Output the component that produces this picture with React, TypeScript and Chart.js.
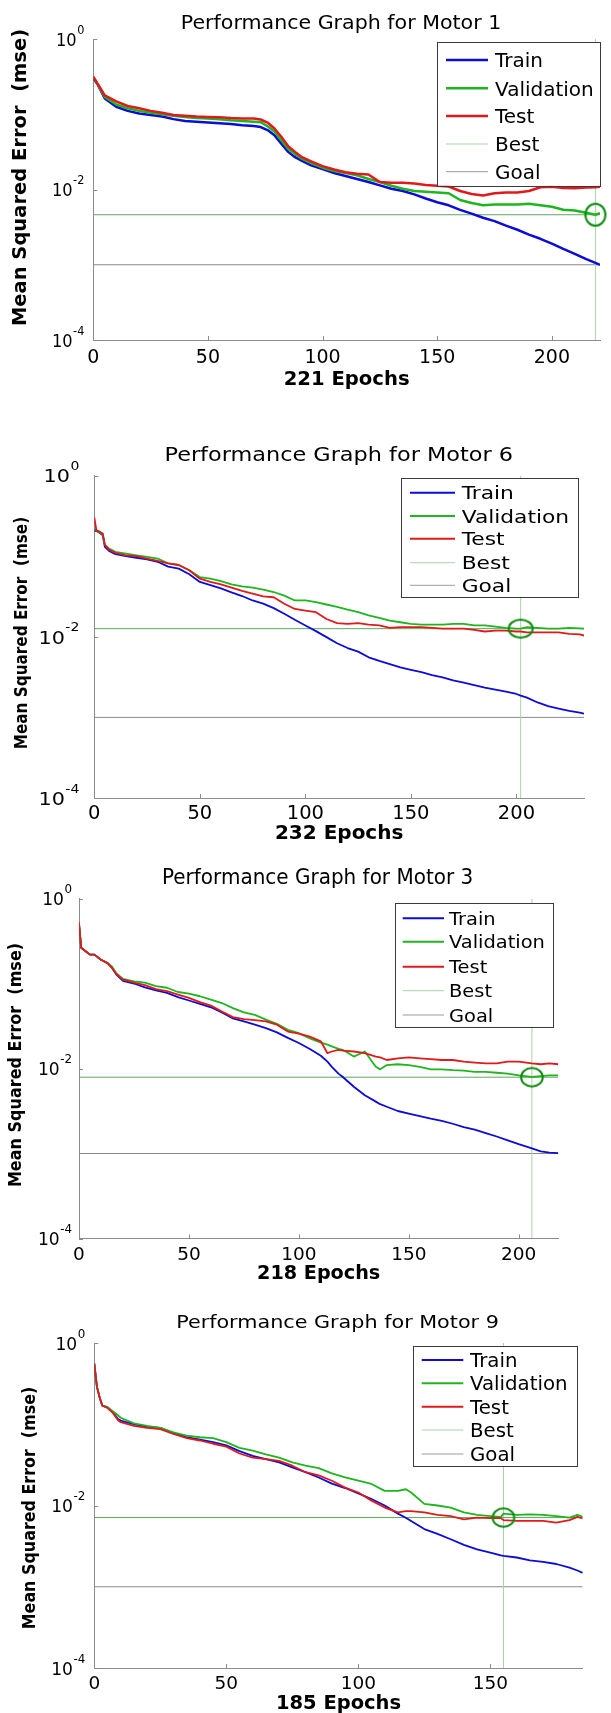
import React, { useEffect, useRef } from 'react';
import { Chart, registerables } from 'chart.js';
Chart.register(...registerables);

const FONT = "'DejaVu Sans', 'Liberation Sans', sans-serif";

// ---------------- data (values are log10 of MSE) ----------------
const LEGEND_LABELS = ['Train', 'Validation', 'Test', 'Best', 'Goal'];
const X_TICKS = [0, 50, 100, 150, 200];
const Y_TICKS = [1, 1e-2, 1e-4];
const Y_EXPS = ['0', '-2', '-4'];
const GOAL = 0.001;

// Motor 1
const m1Epochs = [0,2,5,10,15,20,25,30,35,40,45,50,55,60,65,70,73,76,79,82,85,88,91,95,100,105,110,115,120,125,130,135,140,145,150,155,160,165,170,175,180,185,190,195,200,205,210,215,219,221];
const m1TrainLog = [-0.52,-0.61,-0.79,-0.90,-0.955,-0.99,-1.01,-1.03,-1.065,-1.09,-1.10,-1.11,-1.12,-1.13,-1.145,-1.155,-1.17,-1.21,-1.28,-1.39,-1.50,-1.57,-1.62,-1.68,-1.73,-1.78,-1.82,-1.86,-1.90,-1.945,-1.99,-2.02,-2.065,-2.12,-2.17,-2.21,-2.27,-2.32,-2.375,-2.42,-2.48,-2.535,-2.60,-2.655,-2.72,-2.79,-2.855,-2.925,-2.975,-3.0];
const m1ValLog = [-0.51,-0.61,-0.77,-0.87,-0.92,-0.955,-0.98,-1.0,-1.02,-1.035,-1.05,-1.056,-1.065,-1.08,-1.09,-1.10,-1.105,-1.16,-1.23,-1.345,-1.46,-1.53,-1.59,-1.65,-1.71,-1.755,-1.78,-1.81,-1.86,-1.90,-1.95,-1.99,-2.02,-2.03,-2.04,-2.05,-2.14,-2.18,-2.21,-2.20,-2.20,-2.20,-2.19,-2.21,-2.23,-2.27,-2.28,-2.31,-2.335,-2.315];
const m1TestLog = [-0.50,-0.60,-0.75,-0.83,-0.89,-0.92,-0.955,-0.98,-1.01,-1.02,-1.03,-1.035,-1.04,-1.05,-1.056,-1.056,-1.07,-1.11,-1.19,-1.30,-1.425,-1.50,-1.57,-1.625,-1.69,-1.735,-1.77,-1.79,-1.80,-1.90,-1.91,-1.91,-1.92,-1.94,-1.95,-1.96,-2.02,-2.06,-2.08,-2.05,-2.04,-2.04,-2.02,-1.97,-1.965,-1.98,-1.985,-1.975,-1.97,-1.965];
const m1Best = 0.00462;
const m1BestEpoch = 219;

// Motor 6
const m6Epochs = [0,1,2,4,5,7,10,15,20,25,30,35,40,45,50,55,60,65,70,75,80,85,90,95,100,105,110,115,120,125,130,135,140,145,150,155,160,165,170,175,180,185,190,195,200,202,205,210,215,220,225,230,232];
const m6TrainLog = [-0.68,-0.69,-0.70,-0.74,-0.885,-0.935,-0.976,-1.0,-1.02,-1.04,-1.07,-1.13,-1.155,-1.225,-1.32,-1.36,-1.40,-1.45,-1.495,-1.55,-1.59,-1.645,-1.715,-1.79,-1.86,-1.93,-2.005,-2.08,-2.14,-2.185,-2.255,-2.30,-2.34,-2.38,-2.41,-2.44,-2.475,-2.505,-2.54,-2.57,-2.60,-2.63,-2.655,-2.68,-2.71,-2.73,-2.755,-2.815,-2.86,-2.89,-2.92,-2.94,-2.955];
const m6ValLog = [-0.66,-0.68,-0.70,-0.73,-0.86,-0.905,-0.947,-0.968,-0.99,-1.01,-1.03,-1.09,-1.11,-1.175,-1.26,-1.28,-1.31,-1.35,-1.375,-1.39,-1.415,-1.445,-1.49,-1.55,-1.55,-1.57,-1.60,-1.63,-1.665,-1.695,-1.735,-1.765,-1.80,-1.82,-1.84,-1.85,-1.85,-1.85,-1.84,-1.84,-1.86,-1.86,-1.875,-1.89,-1.90,-1.90,-1.88,-1.89,-1.90,-1.90,-1.89,-1.895,-1.90];
const m6TestLog = [-0.52,-0.68,-0.69,-0.72,-0.86,-0.92,-0.96,-0.99,-1.0,-1.03,-1.06,-1.09,-1.11,-1.175,-1.28,-1.32,-1.35,-1.39,-1.43,-1.465,-1.50,-1.51,-1.59,-1.655,-1.675,-1.695,-1.78,-1.83,-1.84,-1.83,-1.85,-1.86,-1.89,-1.88,-1.88,-1.88,-1.89,-1.90,-1.90,-1.90,-1.915,-1.935,-1.925,-1.925,-1.935,-1.935,-1.945,-1.945,-1.945,-1.945,-1.965,-1.97,-1.985];
const m6Best = 0.0126;
const m6BestEpoch = 202;

// Motor 3
const m3Epochs = [0,1,3,5,7,10,13,15,17,20,25,30,35,40,45,50,55,60,65,70,75,80,85,90,95,100,105,110,113,115,118,120,125,130,135,137,140,145,150,155,160,165,170,175,180,185,190,195,200,206,210,214,218];
const m3TrainLog = [-0.30,-0.58,-0.62,-0.66,-0.66,-0.72,-0.76,-0.815,-0.895,-0.97,-1.0,-1.045,-1.08,-1.11,-1.16,-1.20,-1.24,-1.28,-1.34,-1.41,-1.445,-1.485,-1.525,-1.575,-1.64,-1.70,-1.77,-1.85,-1.92,-1.98,-2.06,-2.10,-2.215,-2.315,-2.39,-2.42,-2.45,-2.50,-2.53,-2.56,-2.59,-2.615,-2.65,-2.69,-2.72,-2.76,-2.80,-2.845,-2.89,-2.94,-2.975,-2.99,-2.995];
const m3ValLog = [-0.30,-0.58,-0.62,-0.66,-0.66,-0.72,-0.76,-0.80,-0.88,-0.945,-0.975,-0.99,-1.03,-1.05,-1.10,-1.12,-1.15,-1.19,-1.23,-1.29,-1.34,-1.37,-1.425,-1.475,-1.545,-1.585,-1.645,-1.695,-1.72,-1.74,-1.77,-1.78,-1.86,-1.80,-1.98,-2.01,-1.96,-1.95,-1.96,-1.98,-2.01,-2.01,-2.02,-2.025,-2.04,-2.04,-2.05,-2.06,-2.08,-2.10,-2.09,-2.08,-2.08];
const m3TestLog = [-0.28,-0.58,-0.62,-0.66,-0.66,-0.72,-0.76,-0.815,-0.89,-0.955,-0.99,-1.02,-1.065,-1.09,-1.13,-1.17,-1.22,-1.26,-1.33,-1.395,-1.42,-1.43,-1.445,-1.485,-1.565,-1.59,-1.625,-1.68,-1.82,-1.80,-1.78,-1.79,-1.80,-1.82,-1.86,-1.87,-1.90,-1.88,-1.87,-1.88,-1.89,-1.90,-1.90,-1.92,-1.93,-1.94,-1.94,-1.92,-1.92,-1.94,-1.95,-1.94,-1.95];
const m3Best = 0.0079;
const m3BestEpoch = 206;

// Motor 9
const m9Epochs = [0,1,2,3,5,7,9,10,15,20,25,30,35,40,45,50,55,60,65,70,75,80,85,90,95,100,105,110,115,118,120,125,130,135,140,145,150,154,155,160,165,170,175,180,183,185];
const m9TrainLog = [-0.255,-0.54,-0.667,-0.77,-0.79,-0.85,-0.935,-0.955,-1.0,-1.03,-1.045,-1.11,-1.16,-1.19,-1.22,-1.26,-1.33,-1.39,-1.43,-1.47,-1.53,-1.59,-1.655,-1.73,-1.785,-1.85,-1.92,-2.0,-2.10,-2.15,-2.19,-2.29,-2.35,-2.415,-2.485,-2.54,-2.58,-2.615,-2.62,-2.64,-2.675,-2.695,-2.72,-2.765,-2.80,-2.83];
const m9ValLog = [-0.255,-0.54,-0.667,-0.77,-0.79,-0.84,-0.89,-0.92,-0.99,-1.02,-1.045,-1.10,-1.14,-1.16,-1.17,-1.22,-1.29,-1.325,-1.37,-1.41,-1.47,-1.51,-1.54,-1.605,-1.655,-1.695,-1.735,-1.82,-1.82,-1.80,-1.84,-1.98,-2.0,-2.025,-2.085,-2.115,-2.13,-2.14,-2.10,-2.115,-2.11,-2.115,-2.13,-2.15,-2.115,-2.14];
const m9TestLog = [-0.255,-0.54,-0.667,-0.77,-0.80,-0.86,-0.95,-0.975,-1.02,-1.045,-1.06,-1.12,-1.17,-1.20,-1.24,-1.275,-1.36,-1.41,-1.43,-1.45,-1.51,-1.59,-1.63,-1.695,-1.78,-1.84,-1.94,-2.025,-2.085,-2.07,-2.07,-2.085,-2.115,-2.13,-2.17,-2.15,-2.155,-2.155,-2.18,-2.19,-2.19,-2.19,-2.21,-2.18,-2.14,-2.16];
const m9Best = 0.0071;
const m9BestEpoch = 155;

// ---------------- styles ----------------
const C_TRAIN = '#0c0cd6';
const C_VAL = '#1fb51f';
const C_TEST = '#e01a1a';
const C_BEST = '#5fa55f';
const C_BEST_V = '#a9d2a9';
const C_GOAL = '#8a8a8a';
const C_CIRCLE = '#0d8a0d';
const C_AXIS = '#8c8c8c';

type Legend = { x1: number; y1: number; x2: number; y2: number; rows: number[]; s1: number; s2: number; tx: number; size: number; sx: number; lw: number };
type Cfg = {
  top: number; height: number; L: number; R: number; T: number; B: number; maxEpoch: number;
  epochs: number[]; train: number[]; val: number[]; test: number[]; best: number; bestEpoch: number;
  title: string; titleX: number; titleY: number; titleSize: number; titleSx: number;
  xTitle: string; xTitleSize: number; xTitlePad: number; xTickSize: number; xTickPad: number;
  yTitleX: number; yTitleY: number; yTitleSize: number; yTitleSx: number;
  yTickSize: number; yExpSize: number; yTickSx: number; yTickGap: number; yExpRaise: number;
  legend: Legend; lineW: number; rx: number; ry: number;
};

const panels: Cfg[] = [
  {
    top: 0, height: 420, L: 93.3, R: 606.7, T: 39, B: 340, maxEpoch: 221,
    epochs: m1Epochs, train: m1TrainLog, val: m1ValLog, test: m1TestLog, best: m1Best, bestEpoch: m1BestEpoch,
    title: 'Performance Graph for Motor 1', titleX: 341, titleY: 21.7, titleSize: 19.6, titleSx: 1.05,
    xTitle: '221 Epochs', xTitleSize: 19.6, xTitlePad: 28.2, xTickSize: 19, xTickPad: 7,
    yTitleX: 19.2, yTitleY: 177.5, yTitleSize: 19.5, yTitleSx: 1.0,
    yTickSize: 18, yExpSize: 12.5, yTickSx: 0.9, yTickGap: 9, yExpRaise: 10,
    legend: { x1: 437.3, y1: 41.7, x2: 600.7, y2: 185.7, rows: [60, 88.3, 116, 144, 171.7], s1: 446, s2: 488, tx: 495, size: 20, sx: 1.0, lw: 2.6 },
    lineW: 2.5, rx: 10, ry: 11,
  },
  {
    top: 420, height: 438, L: 94.3, R: 584, T: 55.5, B: 378, maxEpoch: 232,
    epochs: m6Epochs, train: m6TrainLog, val: m6ValLog, test: m6TestLog, best: m6Best, bestEpoch: m6BestEpoch,
    title: 'Performance Graph for Motor 6', titleX: 338.7, titleY: 34, titleSize: 19.2, titleSx: 1.166,
    xTitle: '232 Epochs', xTitleSize: 20, xTitlePad: 12.7, xTickSize: 19.5, xTickPad: 4,
    yTitleX: 20.3, yTitleY: 213, yTitleSize: 18.5, yTitleSx: 0.824,
    yTickSize: 18.5, yExpSize: 12.5, yTickSx: 1.12, yTickGap: 15, yExpRaise: 10,
    legend: { x1: 400.7, y1: 58, x2: 577.7, y2: 176.7, rows: [72.7, 96, 118.7, 142.7, 165.3], s1: 410, s2: 455, tx: 461.7, size: 18.3, sx: 1.19, lw: 2 },
    lineW: 1.8, rx: 12, ry: 9,
  },
  {
    top: 858, height: 440, L: 79, R: 558.3, T: 40.5, B: 380.5, maxEpoch: 218,
    epochs: m3Epochs, train: m3TrainLog, val: m3ValLog, test: m3TestLog, best: m3Best, bestEpoch: m3BestEpoch,
    title: 'Performance Graph for Motor 3', titleX: 317.6, titleY: 18.7, titleSize: 20.5, titleSx: 0.975,
    xTitle: '218 Epochs', xTitleSize: 19.2, xTitlePad: 12.8, xTickSize: 18.5, xTickPad: 5.4,
    yTitleX: 14.5, yTitleY: 207, yTitleSize: 18.5, yTitleSx: 0.866,
    yTickSize: 18, yExpSize: 12.5, yTickSx: 0.95, yTickGap: 7, yExpRaise: 10,
    legend: { x1: 394.5, y1: 45, x2: 552.5, y2: 168.7, rows: [60.3, 83.7, 108.7, 132.7, 157], s1: 402.7, s2: 444, tx: 449, size: 18.5, sx: 1.05, lw: 2 },
    lineW: 1.8, rx: 10.8, ry: 9.2,
  },
  {
    top: 1298, height: 415, L: 94.3, R: 582.7, T: 45, B: 370, maxEpoch: 185,
    epochs: m9Epochs, train: m9TrainLog, val: m9ValLog, test: m9TestLog, best: m9Best, bestEpoch: m9BestEpoch,
    title: 'Performance Graph for Motor 9', titleX: 337.5, titleY: 23.7, titleSize: 18.5, titleSx: 1.12,
    xTitle: '185 Epochs', xTitleSize: 19.5, xTitlePad: -2.4, xTickSize: 18.5, xTickPad: 5.5,
    yTitleX: 28, yTitleY: 210, yTitleSize: 18.5, yTitleSx: 0.86,
    yTickSize: 18, yExpSize: 12.5, yTickSx: 0.95, yTickGap: 9, yExpRaise: 10,
    legend: { x1: 412.7, y1: 48, x2: 576.7, y2: 167.7, rows: [62, 85.3, 108.7, 132, 156], s1: 421.7, s2: 463.3, tx: 470, size: 19, sx: 1.04, lw: 2 },
    lineW: 1.8, rx: 10.8, ry: 9.2,
  },
];

// ---------------- helpers ----------------
function toPoints(epochs: number[], logs: number[]) {
  return epochs.map((e, i) => ({ x: e, y: Math.pow(10, logs[i]) }));
}

function drawText(ctx: CanvasRenderingContext2D, text: string, x: number, y: number, size: number, sx: number, align: CanvasTextAlign, weight = 'normal', rot = 0) {
  ctx.save();
  ctx.translate(x, y);
  if (rot) ctx.rotate(rot);
  ctx.scale(sx, 1);
  ctx.font = `${weight} ${size}px ${FONT}`;
  ctx.textAlign = align;
  ctx.textBaseline = 'alphabetic';
  ctx.fillStyle = '#000';
  ctx.fillText(text, 0, 0);
  ctx.restore();
}

function makeEllipse(rx: number, ry: number, color: string, lw: number) {
  const c = document.createElement('canvas');
  c.width = Math.ceil(2 * rx + 2 * lw + 2);
  c.height = Math.ceil(2 * ry + 2 * lw + 2);
  const g = c.getContext('2d')!;
  g.strokeStyle = color;
  g.lineWidth = lw;
  g.beginPath();
  g.ellipse(c.width / 2, c.height / 2, rx, ry, 0, 0, Math.PI * 2);
  g.stroke();
  return c;
}

function makeDecor(cfg: Cfg) {
  return {
    id: 'decor',
    afterDraw(chart: any) {
      const ctx: CanvasRenderingContext2D = chart.ctx;
      const xs = chart.scales.x;
      const ys = chart.scales.y;
      const ca = chart.chartArea;
      ctx.save();
      // inward tick marks
      ctx.strokeStyle = C_AXIS;
      ctx.lineWidth = 1;
      ctx.beginPath();
      for (const v of X_TICKS) {
        if (v === 0 || v > cfg.maxEpoch) continue;
        const px = Math.round(xs.getPixelForValue(v)) + 0.5;
        ctx.moveTo(px, ca.bottom);
        ctx.lineTo(px, ca.bottom - 4);
      }
      for (const v of Y_TICKS) {
        const py = Math.round(ys.getPixelForValue(v)) + 0.5;
        ctx.moveTo(ca.left, py);
        ctx.lineTo(ca.left + 4, py);
      }
      ctx.stroke();

      // y tick labels 10^k
      Y_TICKS.forEach((v, i) => {
        const py = ys.getPixelForValue(v);
        const xr = ca.left - cfg.yTickGap;
        ctx.font = `normal ${cfg.yExpSize}px ${FONT}`;
        const ew = ctx.measureText(Y_EXPS[i]).width * cfg.yTickSx;
        drawText(ctx, Y_EXPS[i], xr - ew, py - cfg.yExpRaise + 0.365 * cfg.yExpSize, cfg.yExpSize, cfg.yTickSx, 'left');
        drawText(ctx, '10', xr - ew - 0.5, py + 0.365 * cfg.yTickSize, cfg.yTickSize, cfg.yTickSx, 'right');
      });

      // chart title
      drawText(ctx, cfg.title, cfg.titleX, cfg.titleY + 0.365 * cfg.titleSize, cfg.titleSize, cfg.titleSx, 'center');

      // y axis title (rotated)
      drawText(ctx, 'Mean Squared Error  (mse)', cfg.yTitleX + 0.365 * cfg.yTitleSize, cfg.yTitleY, cfg.yTitleSize, cfg.yTitleSx, 'center', 'bold', -Math.PI / 2);

      // legend
      const lg = cfg.legend;
      ctx.fillStyle = '#ffffff';
      ctx.fillRect(lg.x1, lg.y1, lg.x2 - lg.x1, lg.y2 - lg.y1);
      ctx.strokeStyle = '#3a3a3a';
      ctx.lineWidth = 1;
      ctx.strokeRect(Math.round(lg.x1) + 0.5, Math.round(lg.y1) + 0.5, Math.round(lg.x2 - lg.x1), Math.round(lg.y2 - lg.y1));
      const sampleColors = [C_TRAIN, C_VAL, C_TEST, '#a8d5a8', '#9c9c9c'];
      LEGEND_LABELS.forEach((lab, i) => {
        const y = lg.rows[i];
        ctx.strokeStyle = sampleColors[i];
        ctx.lineWidth = i < 3 ? lg.lw : 1;
        ctx.beginPath();
        ctx.moveTo(lg.s1, y);
        ctx.lineTo(lg.s2, y);
        ctx.stroke();
        drawText(ctx, lab, lg.tx, y + 0.365 * lg.size, lg.size, lg.sx, 'left');
      });
      ctx.restore();
    },
  };
}

function Panel({ cfg }: { cfg: Cfg }) {
  const ref = useRef<HTMLCanvasElement | null>(null);
  useEffect(() => {
    const canvas = ref.current!;
    const ellipse = makeEllipse(cfg.rx, cfg.ry, C_CIRCLE, 2);
    const lineDs = (label: string, data: any[], color: string, width: number) => ({
      label, data, borderColor: color, backgroundColor: color, borderWidth: width,
      pointRadius: 0, pointHoverRadius: 0, tension: 0, fill: false, borderJoinStyle: 'round' as const,
    });
    const chart = new Chart(canvas, {
      type: 'line',
      data: {
        datasets: [
          { label: 'BestMarker', data: [{ x: cfg.bestEpoch, y: cfg.best }], showLine: false, pointStyle: ellipse as any, pointRadius: cfg.rx, borderColor: C_CIRCLE, backgroundColor: 'rgba(0,0,0,0)', clip: false as any },
          lineDs('Test', toPoints(cfg.epochs, cfg.test), C_TEST, cfg.lineW),
          lineDs('Validation', toPoints(cfg.epochs, cfg.val), C_VAL, cfg.lineW),
          lineDs('Train', toPoints(cfg.epochs, cfg.train), C_TRAIN, cfg.lineW),
          lineDs('Best', [{ x: 0, y: cfg.best }, { x: cfg.maxEpoch, y: cfg.best }], C_BEST, 1),
          lineDs('BestEpoch', [{ x: cfg.bestEpoch, y: 1e-4 }, { x: cfg.bestEpoch, y: 1 }], C_BEST_V, 1),
          lineDs('Goal', [{ x: 0, y: GOAL }, { x: cfg.maxEpoch, y: GOAL }], C_GOAL, 1),
        ],
      },
      options: {
        animation: false,
        responsive: false,
        maintainAspectRatio: false,
        devicePixelRatio: 1,
        events: [],
        layout: { padding: { top: cfg.T, left: 0, right: 611 - cfg.R, bottom: 0 } },
        plugins: { legend: { display: false }, tooltip: { enabled: false }, title: { display: false } },
        scales: {
          x: {
            type: 'linear', position: 'bottom', min: 0, max: cfg.maxEpoch,
            grid: { display: false, drawTicks: false },
            border: { display: true, color: C_AXIS, width: 1 },
            ticks: { stepSize: 50, autoSkip: false, maxRotation: 0, minRotation: 0, padding: cfg.xTickPad, color: '#000', font: { family: FONT, size: cfg.xTickSize } },
            title: { display: true, text: cfg.xTitle, color: '#000', font: { family: FONT, size: cfg.xTitleSize, weight: 'bold' }, padding: { top: 0, bottom: cfg.xTitlePad } },
            afterBuildTicks: (s: any) => { s.ticks = X_TICKS.filter((v) => v <= cfg.maxEpoch).map((v) => ({ value: v })); },
            afterFit: (s: any) => { s.height = cfg.height - cfg.B; },
          },
          y: {
            type: 'logarithmic', position: 'left', min: 1e-4, max: 1,
            grid: { display: false, drawTicks: false },
            border: { display: true, color: C_AXIS, width: 1 },
            ticks: { display: false },
            afterBuildTicks: (s: any) => { s.ticks = Y_TICKS.map((v) => ({ value: v })); },
            afterFit: (s: any) => { s.width = cfg.L; },
          },
        },
      } as any,
      plugins: [makeDecor(cfg)],
    });
    return () => chart.destroy();
  }, []);
  return (
    <canvas
      ref={ref}
      width={611}
      height={cfg.height}
      style={{ position: 'absolute', left: 0, top: cfg.top, width: 611, height: cfg.height, display: 'block' }}
    />
  );
}

export default function App() {
  return (
    <div style={{ position: 'absolute', left: 0, top: 0, width: 611, height: 1713, background: '#fff', overflow: 'hidden' }}>
      {panels.map((p, i) => (
        <Panel key={i} cfg={p} />
      ))}
    </div>
  );
}
